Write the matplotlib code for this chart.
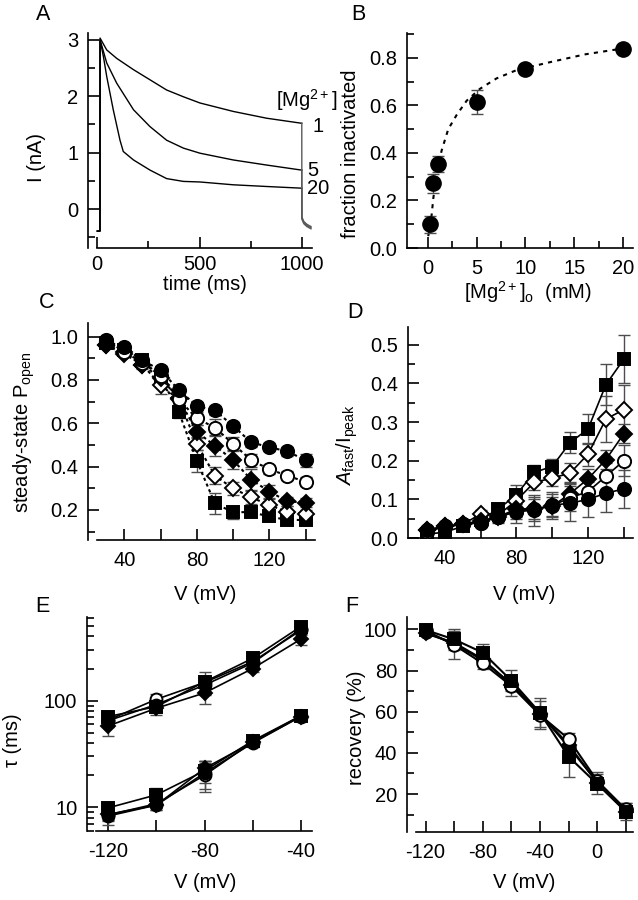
import matplotlib
matplotlib.use("Agg")
import matplotlib.pyplot as plt
from matplotlib.ticker import MultipleLocator, FixedLocator, LogLocator, NullFormatter
import numpy as np

plt.rcParams['font.family'] = ['Liberation Sans', 'DejaVu Sans']
plt.rcParams['mathtext.fontset'] = 'custom'
plt.rcParams['mathtext.rm'] = 'Liberation Sans'
plt.rcParams['mathtext.it'] = 'Liberation Sans:italic'
plt.rcParams['font.size'] = 14.5
plt.rcParams['axes.unicode_minus'] = False

# ---- A: current traces ----
tA = [0, 13, 13.5, 46, 95, 177, 258, 339, 421, 502, 665, 828, 1000]
iA_1 = [-0.39, -0.39, 3.03, 2.82, 2.67, 2.47, 2.29, 2.11, 1.99, 1.88, 1.73, 1.61, 1.52]
iA_5 = [-0.39, -0.39, 3.0, 2.59, 2.23, 1.76, 1.46, 1.22, 1.08, 0.99, 0.87, 0.78, 0.69]
tA20 = [0, 13, 13.5, 30, 46, 78, 111, 127, 177, 258, 339, 421, 502, 665, 828, 1000]
iA_20 = [-0.39, -0.39, 3.0, 2.7, 2.35, 1.76, 1.22, 1.02, 0.87, 0.69, 0.54, 0.49, 0.48, 0.43, 0.40, 0.37]
t_tail = [1000, 1000.5, 1010, 1025, 1045]
i_tail = [[1.52, -0.14, -0.22, -0.27, -0.31],
          [0.69, -0.16, -0.24, -0.29, -0.33],
          [0.37, -0.18, -0.26, -0.31, -0.35]]

# ---- B: fraction inactivated vs [Mg] ----
mg = [0.2, 0.5, 1, 5, 10, 20]
frac = [0.10, 0.272, 0.354, 0.613, 0.754, 0.837]
frac_err = [0.035, 0.04, 0.033, 0.05, 0.022, 0.012]
fit_x = [0.03, 0.38, 0.55, 0.89, 1.4, 2.08, 2.94, 3.97, 5.33, 7.04, 9.1, 12.6, 16.1, 20]
fit_y = [0.05, 0.14, 0.21, 0.31, 0.41, 0.50, 0.56, 0.62, 0.67, 0.714, 0.749, 0.783, 0.815, 0.84]

# ---- C / D: voltage series ----
V = [30, 40, 50, 60, 70, 80, 90, 100, 110, 120, 130, 140]
C_fc = [0.98, 0.95, 0.89, 0.846, 0.754, 0.68, 0.66, 0.588, 0.512, 0.49, 0.47, 0.43]
C_oc = [0.985, 0.93, 0.88, 0.82, 0.71, 0.623, 0.58, 0.505, 0.43, 0.388, 0.358, 0.33]
C_fd = [0.96, 0.92, 0.87, 0.81, 0.715, 0.56, 0.497, 0.43, 0.34, 0.285, 0.24, 0.234]
C_od = [0.96, 0.93, 0.87, 0.777, 0.71, 0.505, 0.358, 0.30, 0.258, 0.223, 0.19, 0.18]
C_fs = [0.97, 0.94, 0.89, 0.815, 0.654, 0.427, 0.23, 0.19, 0.19, 0.17, 0.154, 0.154]
C_fc_e = [0.01, 0.01, 0.01, 0.02, 0.02, 0.02, 0.02, 0.02, 0.02, 0.02, 0.02, 0.03]
C_oc_e = [0.01, 0.01, 0.01, 0.02, 0.02, 0.03, 0.04, 0.03, 0.03, 0.02, 0.02, 0.02]
C_fd_e = [0.01, 0.01, 0.01, 0.02, 0.03, 0.03, 0.05, 0.04, 0.05, 0.03, 0.02, 0.02]
C_od_e = [0.01, 0.01, 0.02, 0.04, 0.03, 0.03, 0.04, 0.03, 0.03, 0.03, 0.03, 0.02]
C_fs_e = [0.01, 0.01, 0.02, 0.03, 0.03, 0.05, 0.05, 0.03, 0.02, 0.02, 0.02, 0.02]

D_fs = [0.01, 0.015, 0.03, 0.047, 0.075, 0.112, 0.17, 0.185, 0.247, 0.282, 0.397, 0.463]
D_od = [0.02, 0.03, 0.035, 0.062, 0.06, 0.097, 0.144, 0.155, 0.168, 0.217, 0.308, 0.332]
D_fd = [0.02, 0.03, 0.035, 0.045, 0.055, 0.075, 0.075, 0.082, 0.115, 0.153, 0.203, 0.27]
D_oc = [0.015, 0.03, 0.035, 0.04, 0.055, 0.069, 0.075, 0.084, 0.104, 0.12, 0.16, 0.20]
D_fc = [0.02, 0.03, 0.035, 0.04, 0.055, 0.068, 0.072, 0.085, 0.09, 0.10, 0.116, 0.127]
D_fs_e = [0.005, 0.005, 0.005, 0.01, 0.01, 0.025, 0.02, 0.02, 0.027, 0.04, 0.053, 0.063]
D_od_e = [0.005, 0.005, 0.005, 0.01, 0.01, 0.02, 0.02, 0.02, 0.025, 0.03, 0.06, 0.065]
D_fd_e = [0.005, 0.005, 0.005, 0.01, 0.01, 0.02, 0.025, 0.025, 0.03, 0.025, 0.025, 0.025]
D_oc_e = [0.005, 0.005, 0.005, 0.01, 0.01, 0.02, 0.03, 0.03, 0.035, 0.03, 0.035, 0.04]
D_fc_e = [0.005, 0.005, 0.005, 0.01, 0.015, 0.03, 0.04, 0.035, 0.045, 0.045, 0.05, 0.05]

# ---- E: time constants ----
VE = [-120, -100, -80, -60, -40]
E_slow = {'fc': [65, 92, 140, 225, 470], 'oc': [66, 103, 148, 232, 455],
          'fd': [58, 85, 118, 200, 376], 'fs': [71, 88, 150, 249, 494]}
E_slow_e = {'fc': [8, 10, 25, 20, 40], 'oc': [6, 12, 20, 20, 40],
            'fd': [11, 12, 24, 15, 46], 'fs': [6, 8, 37, 20, 30]}
E_fast = {'fc': [8.3, 10.5, 21, 40, 71], 'oc': [8.5, 10.8, 20, 41, 72],
          'fd': [8.6, 10.5, 23.2, 40.7, 70.8], 'fs': [9.9, 13.1, 22, 42, 72]}
E_fast_e = {'fc': [1.5, 1, 6, 3, 6], 'oc': [1, 1, 6, 3, 6],
            'fd': [1, 1, 4, 3, 5], 'fs': [0.8, 2, 5, 3, 6]}

# ---- F: recovery ----
VF = [-120, -100, -80, -60, -40, -20, 0, 20]
F_fc = [98.5, 93, 85, 73.5, 59, 43, 26, 12]
F_fd = [98, 93.5, 85.5, 73, 59, 44, 25.5, 11.5]
F_oc = [99.5, 92.4, 83.5, 72.5, 58.4, 46.8, 26.5, 12.6]
F_fs = [99.7, 95.1, 88.7, 75.1, 59.5, 38.2, 24.9, 11.5]
F_oc_e = [1, 7, 3, 5, 7, 3, 4, 3]
F_fs_e = [1, 5, 4, 5, 7, 10, 5, 4]

W, H = 638, 900
fig = plt.figure(figsize=(W / 100, H / 100), dpi=100)

def box(l, r, t, b):
    return fig.add_axes([l / W, 1 - b / H, (r - l) / W, (b - t) / H])

def ftext(x, y, s, **kw):
    fig.text(x / W, 1 - y / H, s, **kw)

def style(ax, xstart=None):
    for s in ['top', 'right']:
        ax.spines[s].set_visible(False)
    for s in ['left', 'bottom']:
        ax.spines[s].set_linewidth(1.2)
    ax.tick_params(which='both', direction='in', width=1.2, labelsize=14.5)
    ax.tick_params(which='major', length=8)
    ax.tick_params(which='minor', length=5)
    ax.tick_params(axis='x', pad=8)
    ax.tick_params(axis='y', pad=7)
    if xstart is not None:
        ax.spines['bottom'].set_bounds(xstart, ax.get_xlim()[1])

MK = {'fc': ('o', 'k'), 'oc': ('o', 'w'), 'fd': ('D', 'k'), 'od': ('D', 'w'), 'fs': ('s', 'k')}
MS = {'o': 9.5, 'D': 8, 's': 9}

def series(ax, x, y, e, key, ls='-', lw=1.2, dashes=None, ms_scale=1.0):
    m, fc = MK[key]
    if e is not None:
        ax.errorbar(x, y, yerr=e, fmt='none', ecolor='0.3', elinewidth=1, capsize=4, capthick=1, zorder=2)
    kw = dict(color='k', lw=lw, ls=ls, marker=m, ms=MS[m] * ms_scale, mfc=fc, mec='k', mew=1.4, zorder=3)
    if dashes is not None:
        kw['dashes'] = dashes
    ax.plot(x, y, **kw)

# ---------- A ----------
axA = box(88, 312, 33, 248)
axA.set_xlim(-45.5, 1050)
axA.set_ylim(-0.69, 3.12)
style(axA, xstart=0)
axA.tick_params(axis='x', pad=5)
axA.plot(tA, iA_1, color='k', lw=1)
axA.plot(tA, iA_5, color='k', lw=1)
axA.plot(tA20, iA_20, color='k', lw=1)
for tail in i_tail:
    axA.plot(t_tail, tail, color='0.35', lw=1)
axA.xaxis.set_major_locator(FixedLocator([0, 500, 1000]))
axA.xaxis.set_minor_locator(FixedLocator([250, 750]))
axA.yaxis.set_major_locator(FixedLocator([0, 1, 2, 3]))
axA.yaxis.set_minor_locator(FixedLocator([-0.5, 0.5, 1.5, 2.5]))
ftext(276, 100, '[Mg$^{2+}$]', ha='left', va='center')
ftext(312, 126, '1', ha='left', va='center')
ftext(307, 170, '5', ha='left', va='center')
ftext(307, 188, '20', ha='left', va='center')
ftext(36, 157, 'I (nA)', rotation=90, ha='center', va='center')
ftext(205, 285, 'time (ms)', ha='center', va='center')
ftext(43, 14, 'A', ha='center', va='center', fontsize=15.5)

# ---------- B ----------
axB = box(407, 633, 33, 248)
axB.set_xlim(-2.15, 21.03)
axB.set_ylim(0, 0.905)
style(axB)
axB.plot(fit_x, fit_y, color='k', lw=1.5, ls='--', dashes=(2, 2.5))
axB.errorbar(mg, frac, yerr=frac_err, fmt='none', ecolor='0.3', elinewidth=1, capsize=4.5, capthick=1)
axB.plot(mg, frac, ls='none', marker='o', ms=11, mfc='k', mec='k', zorder=3)
axB.xaxis.set_major_locator(MultipleLocator(5))
axB.xaxis.set_minor_locator(MultipleLocator(2.5))
axB.yaxis.set_major_locator(MultipleLocator(0.2))
axB.yaxis.set_minor_locator(MultipleLocator(0.1))
axB.yaxis.set_major_formatter(lambda v, p: f'{v:.1f}')
ftext(351, 154, 'fraction inactivated', rotation=90, ha='center', va='center')
ftext(528, 292, '[Mg$^{2+}$]$_{\\mathrm{o}}$  (mM)', ha='center', va='center')
ftext(358, 14, 'B', ha='center', va='center', fontsize=15.5)

# ---------- C ----------
axC = box(88, 315, 323, 540)
axC.set_xlim(19.97, 145.2)
axC.set_ylim(0.0615, 1.063)
style(axC, xstart=25)
for key, y, e in [('fs', C_fs, C_fs_e), ('od', C_od, C_od_e), ('fd', C_fd, C_fd_e),
                  ('oc', C_oc, C_oc_e), ('fc', C_fc, C_fc_e)]:
    series(axC, V, y, e, key, ls=':', lw=1.5, dashes=(1.5, 1.5))
axC.xaxis.set_major_locator(FixedLocator([40, 80, 120]))
axC.xaxis.set_minor_locator(FixedLocator([60, 100, 140]))
axC.yaxis.set_major_locator(MultipleLocator(0.2))
axC.yaxis.set_minor_locator(MultipleLocator(0.1))
axC.yaxis.set_major_formatter(lambda v, p: f'{v:.1f}')
axC.tick_params(axis='x', which='minor', length=8)
ftext(24, 432, 'steady-state P$_{\\mathrm{open}}$', rotation=90, ha='center', va='center')
ftext(205, 595, 'V (mV)', ha='center', va='center')
ftext(47, 303, 'C', ha='center', va='center', fontsize=15.5)

# ---------- D ----------
axD = box(408, 633, 327, 538)
axD.set_xlim(19.5, 145.1)
axD.set_ylim(0, 0.546)
style(axD)
for key, y, e in [('fs', D_fs, D_fs_e), ('od', D_od, D_od_e), ('fd', D_fd, D_fd_e),
                  ('oc', D_oc, D_oc_e), ('fc', D_fc, D_fc_e)]:
    series(axD, V, y, e, key, lw=1.2)
axD.xaxis.set_major_locator(FixedLocator([40, 80, 120]))
axD.xaxis.set_minor_locator(FixedLocator([60, 100, 140]))
axD.yaxis.set_major_locator(MultipleLocator(0.1))
axD.yaxis.set_minor_locator(MultipleLocator(0.05))
axD.yaxis.set_major_formatter(lambda v, p: f'{v:.1f}')
axD.tick_params(axis='x', which='minor', length=8)
ftext(347, 445, '$\\mathit{A}_{\\mathrm{fast}}$/I$_{\\mathrm{peak}}$', rotation=90, ha='center', va='center')
ftext(524, 595, 'V (mV)', ha='center', va='center')
ftext(355, 313, 'D', ha='center', va='center', fontsize=15.5)

# ---------- E ----------
axE = box(87, 312, 617, 831)
axE.set_yscale('log')
axE.set_xlim(-128.9, -35.3)
axE.set_ylim(6.0, 608)
style(axE, xstart=-125)
for key in ['fd', 'oc', 'fc', 'fs']:
    series(axE, VE, E_slow[key], E_slow_e[key], key, lw=1.2, ms_scale=0.9)
    series(axE, VE, E_fast[key], E_fast_e[key], key, lw=1.2, ms_scale=0.9)
axE.xaxis.set_major_locator(FixedLocator([-120, -80, -40]))
axE.xaxis.set_minor_locator(FixedLocator([-100, -60]))
axE.tick_params(axis='x', which='minor', length=8)
axE.yaxis.set_major_locator(FixedLocator([10, 100]))
axE.yaxis.set_major_formatter(lambda v, p: f'{v:.0f}')
axE.yaxis.set_minor_locator(LogLocator(base=10, subs=np.arange(2, 10)))
axE.yaxis.set_minor_formatter(NullFormatter())
ftext(13, 740, 'τ (ms)', rotation=90, ha='center', va='center')
ftext(205, 882, 'V (mV)', ha='center', va='center')
ftext(42, 607, 'E', ha='center', va='center', fontsize=15.5)

# ---------- F ----------
axF = box(407, 633, 617, 832)
axF.set_xlim(-133, 25.1)
axF.set_ylim(1.55, 106)
style(axF, xstart=-127)
for key, y, e in [('fd', F_fd, None), ('fc', F_fc, None), ('oc', F_oc, F_oc_e), ('fs', F_fs, F_fs_e)]:
    series(axF, VF, y, e, key, lw=1.5, ms_scale=0.95)
axF.xaxis.set_major_locator(FixedLocator([-120, -80, -40, 0]))
axF.xaxis.set_minor_locator(FixedLocator([-100, -60, -20, 20]))
axF.tick_params(axis='x', which='minor', length=8)
axF.yaxis.set_major_locator(MultipleLocator(20))
axF.yaxis.set_minor_locator(MultipleLocator(10))
axF.set_yticks([20, 40, 60, 80, 100])
ftext(356, 728, 'recovery (%)', rotation=90, ha='center', va='center')
ftext(524, 882, 'V (mV)', ha='center', va='center')
ftext(352, 606, 'F', ha='center', va='center', fontsize=15.5)

fig.savefig('out.png', dpi=100)
